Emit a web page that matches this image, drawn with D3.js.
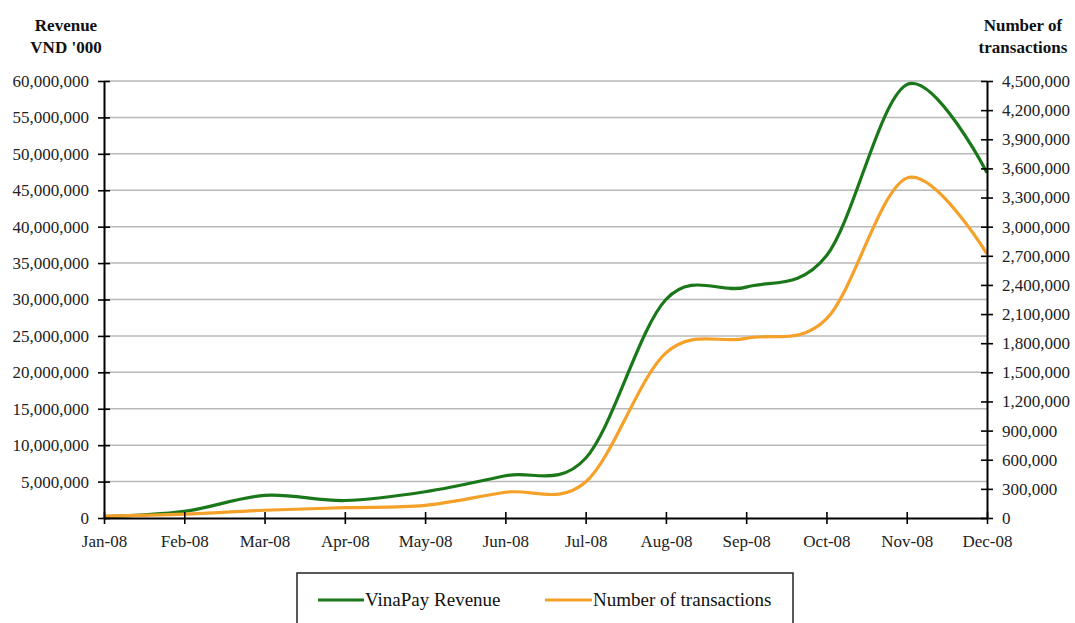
<!DOCTYPE html>
<html>
<head>
<meta charset="utf-8">
<script src="https://cdn.jsdelivr.net/npm/d3@7/dist/d3.min.js"></script>
<style>
  body { margin: 0; background: #fff; }
  svg { display: block; font-family: "Liberation Serif", "DejaVu Serif", serif; }
</style>
</head>
<body>
<svg id="chart" width="1075" height="623"></svg>
<script>
// months on the x axis
const months = ["Jan-08", "Feb-08", "Mar-08", "Apr-08", "May-08", "Jun-08",
  "Jul-08", "Aug-08", "Sep-08", "Oct-08", "Nov-08", "Dec-08"];

// VinaPay revenue, VND '000 (left axis)
const revenue = [200000, 900000, 3100000, 2400000, 3600000, 5800000,
  8200000, 30000000, 31700000, 36000000, 59500000, 47400000];

// number of transactions (right axis)
const transactions = [20000, 40000, 80000, 106000, 130000, 265000,
  370000, 1700000, 1850000, 2050000, 3500000, 2720000];

const leftTicks = d3.range(0, 60000001, 5000000);
const rightTicks = d3.range(0, 4500001, 300000);

const series = [
  { name: "VinaPay Revenue", values: revenue, color: "#1a781a", axis: "left" },
  { name: "Number of transactions", values: transactions, color: "#f5a029", axis: "right" }
];

const svg = d3.select("#chart");
const L = 104, R = 987, T = 81, B = 518;
const FONT = "'Liberation Serif', 'DejaVu Serif', serif";

const x = d3.scalePoint().domain(months).range([L, R]);
const yL = d3.scaleLinear().domain([0, 60000000]).range([B, T]);
const yR = d3.scaleLinear().domain([0, 4500000]).range([B, T]);

// gridlines
svg.append("g")
  .selectAll("line")
  .data(leftTicks.filter(d => d > 0))
  .join("line")
  .attr("x1", L).attr("x2", R)
  .attr("y1", d => yL(d)).attr("y2", d => yL(d))
  .attr("stroke", "#b8b8b8")
  .attr("stroke-width", 1.5);

// lines, smoothed like the spreadsheet
const fmt = d3.format(",");
series.forEach(s => {
  const y = s.axis == "left" ? yL : yR;
  const line = d3.line()
    .x((d, i) => x(months[i]))
    .y(d => y(d))
    .curve(d3.curveCardinal.tension(0));
  svg.append("path")
    .datum(s.values)
    .attr("d", line)
    .attr("fill", "none")
    .attr("stroke", s.color)
    .attr("stroke-width", 3.2)
    .attr("stroke-linejoin", "round");
});

// axes
const styleAxis = g => {
  g.attr("font-family", FONT);
  g.select(".domain").attr("stroke", "#000").attr("stroke-width", 2);
  g.selectAll(".tick line").attr("stroke", "#000").attr("stroke-width", 1.6);
  g.selectAll(".tick text").attr("fill", "#222").style("font-size", "17px")
    .style("font-family", FONT);
};

const gx = svg.append("g")
  .attr("transform", `translate(0,${B})`)
  .call(d3.axisBottom(x).tickSize(6).tickSizeOuter(0).tickPadding(11));
gx.call(styleAxis);
gx.selectAll(".tick line").attr("y1", -6);

const gl = svg.append("g")
  .attr("transform", `translate(${L},0)`)
  .call(d3.axisLeft(yL).tickValues(leftTicks).tickFormat(fmt).tickSize(6).tickSizeOuter(0).tickPadding(9));
gl.call(styleAxis);
gl.selectAll(".tick line").attr("x1", 6);

const gr = svg.append("g")
  .attr("transform", `translate(${R},0)`)
  .call(d3.axisRight(yR).tickValues(rightTicks).tickFormat(fmt).tickSize(6).tickSizeOuter(0).tickPadding(9));
gr.call(styleAxis);
gr.selectAll(".tick line").attr("x1", -6);

// axis titles
const title = (lines, cx) => {
  const t = svg.append("text")
    .attr("text-anchor", "middle")
    .attr("font-weight", "bold")
    .attr("font-size", 17)
    .style("font-family", FONT)
    .attr("fill", "#111");
  lines.forEach((s, i) => t.append("tspan").attr("x", cx).attr("y", 31 + i * 22).text(s));
};
title(["Revenue", "VND '000"], 66);
title(["Number of", "transactions"], 1023);

// legend
const lg = svg.append("g");
lg.append("rect")
  .attr("x", 297).attr("y", 573).attr("width", 496).attr("height", 60)
  .attr("fill", "#fff").attr("stroke", "#222").attr("stroke-width", 1.5);
const items = [{ s: series[0], x1: 318, x2: 364 }, { s: series[1], x1: 545, x2: 592 }];
items.forEach(it => {
  lg.append("line")
    .attr("x1", it.x1).attr("x2", it.x2).attr("y1", 600).attr("y2", 600)
    .attr("stroke", it.s.color).attr("stroke-width", 3.2);
  lg.append("text")
    .attr("x", it.x2 + 1).attr("y", 606)
    .attr("font-size", 19).attr("fill", "#111")
    .style("font-family", FONT)
    .text(it.s.name);
});
</script>
</body>
</html>
